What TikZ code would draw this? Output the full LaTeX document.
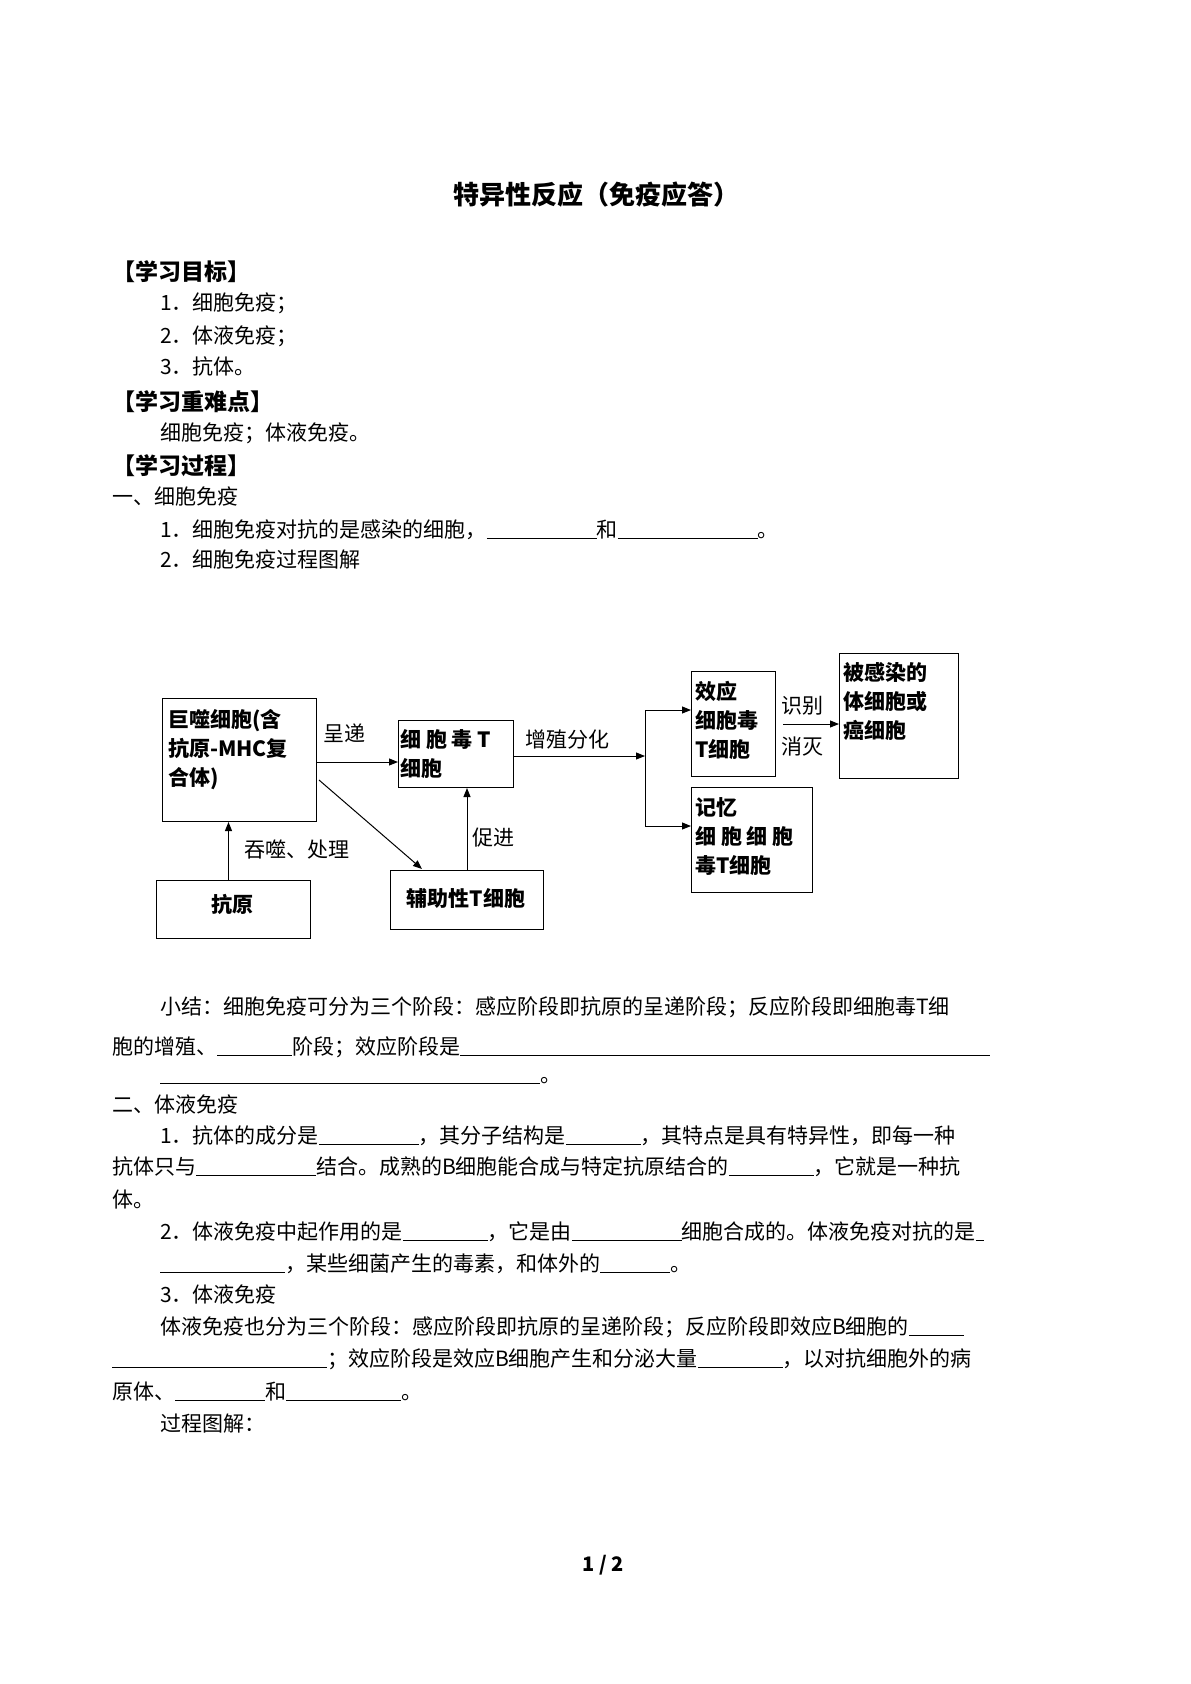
\documentclass[tikz,border=0pt]{standalone}
\usepackage{fontspec}
\setmainfont{Noto Sans CJK SC}
\usetikzlibrary{arrows.meta}
\newcommand{\bl}[1]{\underline{\hspace{#1pt}}}
\begin{document}
\begin{tikzpicture}[x=1pt,y=-1pt,
  txt/.style={anchor=base west,inner sep=0pt,font=\fontsize{21}{24}\selectfont},
  hd/.style={anchor=base west,inner sep=0pt,font=\fontsize{23}{26}\selectfont\bfseries},
  box/.style={draw,line width=1pt,anchor=north west,inner sep=0pt},
  bt/.style={anchor=north west,inner sep=0pt,align=left,font=\fontsize{21}{29}\selectfont\bfseries},
  lb/.style={inner sep=0pt,font=\fontsize{21}{24}\selectfont},
  ar/.style={-{Triangle[length=9pt,width=7pt]},line width=1pt}]
\useasboundingbox[fill=white] (0,0) rectangle (1191,1684);
\node[inner sep=0pt,font=\fontsize{26}{30}\selectfont\bfseries] (title) at (596,195) {特异性反应（免疫应答）};
\node[hd] (h1) at (112,280) {【学习目标】};
\node[txt] (t1) at (160,310) {1．细胞免疫；};
\node[txt] (t2) at (160,343) {2．体液免疫；};
\node[txt] (t3) at (160,374) {3．抗体。};
\node[hd] (h2) at (112,410) {【学习重难点】};
\node[txt] (t4) at (160,440) {细胞免疫；体液免疫。};
\node[hd] (h3) at (112,474) {【学习过程】};
\node[txt] (t5) at (112,504) {一、细胞免疫};
\node[txt] (t6) at (160,537) {1．细胞免疫对抗的是感染的细胞，\bl{110}和\bl{140}。};
\node[txt] (t7) at (160,567) {2．细胞免疫过程图解};
% diagram
\node[box,minimum width=154,minimum height=123] (mac) at (162,698) {};
\node[bt] (macT) at (168,709) {巨噬细胞(含\\抗原-MHC复\\合体)};
\node[box,minimum width=154,minimum height=58] (ag) at (156,880) {};
\node[font=\fontsize{21}{26}\selectfont\bfseries] (agT) at (232,904) {抗原};
\node[box,minimum width=115,minimum height=67] (ctt) at (398,720) {};
\node[bt] (cttT) at (400,729) {细 胞 毒 T\\细胞};
\node[box,minimum width=153,minimum height=59] (hel) at (390,870) {};
\node[font=\fontsize{21}{26}\selectfont\bfseries] (helT) at (466,898) {辅助性T细胞};
\node[box,minimum width=84,minimum height=105] (eff) at (691,671) {};
\node[bt] (effT) at (695,681) {效应\\细胞毒\\T细胞};
\node[box,minimum width=121,minimum height=105] (mem) at (691,787) {};
\node[bt] (memT) at (695,797) {记忆\\细 胞 细 胞\\毒T细胞};
\node[box,minimum width=119,minimum height=125] (inf) at (839,653) {};
\node[bt] (infT) at (843,662) {被感染的\\体细胞或\\癌细胞};
\draw[ar] (ag.north) ++(-5,0) coordinate (agn) -- (agn |- mac.south);
\draw[ar] (316,762) coordinate (m1) -- (m1 -| ctt.west);
\draw[ar] (319,780) coordinate (m2) -- (422,869) coordinate (h0);
\draw[ar] (hel.north) coordinate (hn) -- (hn |- ctt.south);
\coordinate (br) at (645,756);
\draw[ar] (ctt.east |- br) -- (br);
\draw[line width=1pt] (645,710) coordinate (b1) -- (645,826) coordinate (b2);
\draw[ar] (b1) -- (b1 -| eff.west);
\draw[ar] (b2) -- (b2 -| mem.west);
\draw[ar] (783,724) coordinate (k1) -- (k1 -| inf.west);
\node[lb] (l1) at (344,733) {呈递};
\node[lb] (l2) at (567,740) {增殖分化};
\node[lb] (l3) at (297,850) {吞噬、处理};
\node[lb] (l4) at (493,838) {促进};
\node[lb] (l5) at (802,706) {识别};
\node[lb] (l6) at (802,747) {消灭};
% text below
\node[txt] (s1) at (160,1014) {小结：细胞免疫可分为三个阶段：感应阶段即抗原的呈递阶段；反应阶段即细胞毒T细};
\node[txt] (s2) at (112,1054) {胞的增殖、\bl{75}阶段；效应阶段是\bl{530}};
\node[txt] (s3) at (160,1082) {\bl{380}。};
\node[txt] (s4) at (112,1112) {二、体液免疫};
\node[txt] (s5) at (160,1143) {1．抗体的成分是\bl{100}，其分子结构是\bl{75}，其特点是具有特异性，即每一种};
\node[txt] (s6) at (112,1174) {抗体只与\bl{120}结合。成熟的B细胞能合成与特定抗原结合的\bl{85}，它就是一种抗};
\node[txt] (s7) at (112,1207) {体。};
\node[txt] (s8) at (160,1239) {2．体液免疫中起作用的是\bl{85}，它是由\bl{110}细胞合成的。体液免疫对抗的是\bl{8}};
\node[txt] (s9) at (160,1271) {\bl{125}，某些细菌产生的毒素，和体外的\bl{70}。};
\node[txt] (s10) at (160,1302) {3．体液免疫};
\node[txt] (s11) at (160,1334) {体液免疫也分为三个阶段：感应阶段即抗原的呈递阶段；反应阶段即效应B细胞的\bl{55}};
\node[txt] (s12) at (112,1366) {\bl{215}；效应阶段是效应B细胞产生和分泌大量\bl{85}，以对抗细胞外的病};
\node[txt] (s13) at (112,1399) {原体、\bl{90}和\bl{115}。};
\node[txt] (s14) at (160,1431) {过程图解：};
\node[inner sep=0pt,font=\fontsize{20}{24}\selectfont\bfseries] (pg) at (603,1565) {1 / 2};
\end{tikzpicture}
\end{document}
